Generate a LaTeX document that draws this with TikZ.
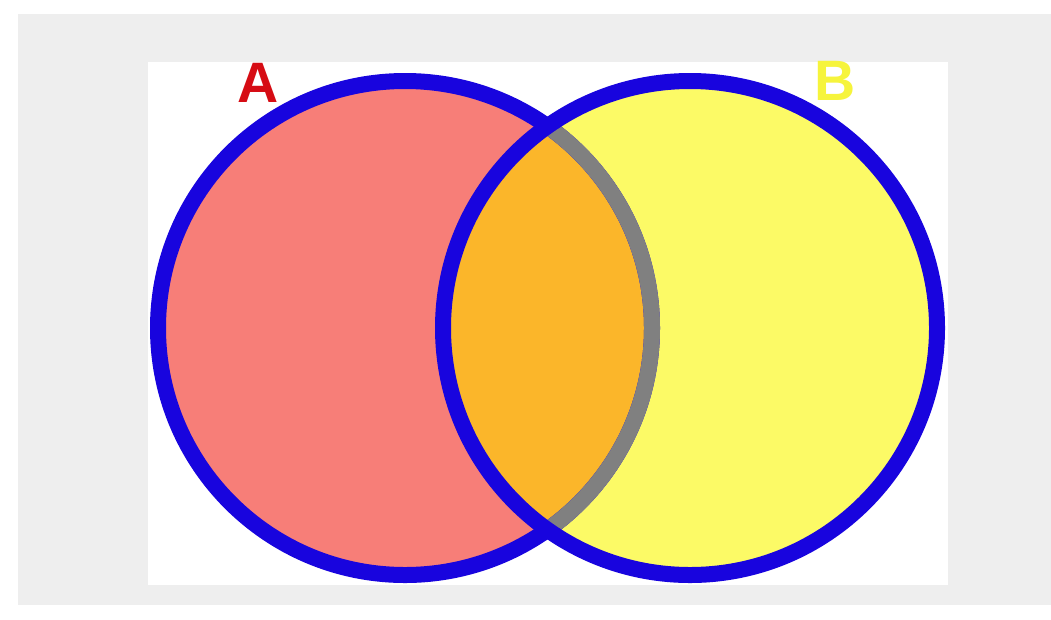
\documentclass[tikz,border=0pt]{standalone}
\usepackage{fontspec}
\setmainfont{Liberation Sans}
\definecolor{bgray}{RGB}{238,238,238}
\definecolor{salmon}{RGB}{247,126,120}
\definecolor{lemon}{RGB}{252,250,102}
\definecolor{amber}{RGB}{251,182,42}
\definecolor{ringblue}{RGB}{24,4,222}
\definecolor{ringgray}{RGB}{128,128,128}
\definecolor{labred}{RGB}{214,12,20}
\definecolor{labyellow}{RGB}{246,244,60}
\tikzset{
  ring/.style={line width=16pt},
  setlabel/.style={font=\bfseries\fontsize{57}{57}\selectfont, inner sep=0pt}
}
\begin{document}
\begin{tikzpicture}[x=1pt,y=-1pt]
\useasboundingbox (0,0) rectangle (1051,619);
\fill[white] (0,0) rectangle (1051,619);
\fill[bgray] (18,14) rectangle (1051,605);
\fill[white] (148,62) rectangle (948,585);
\coordinate (ca) at (405,328);
\coordinate (cb) at (690,328);
\fill[salmon] (ca) circle[radius=247];
\fill[lemon] (cb) circle[radius=247];
\begin{scope}
  \clip (ca) circle[radius=247];
  \fill[amber] (cb) circle[radius=247];
\end{scope}
\draw[ring, ringblue] (ca) circle[radius=247];
\begin{scope}
  \clip (cb) circle[radius=247];
  \draw[ring, ringgray] (ca) circle[radius=247];
\end{scope}
\draw[ring, ringblue] (cb) circle[radius=247];
\node[setlabel, text=labred] (la) at (258,83) {A};
\node[setlabel, text=labyellow] (lb) at (835,81) {B};
\end{tikzpicture}
\end{document}
